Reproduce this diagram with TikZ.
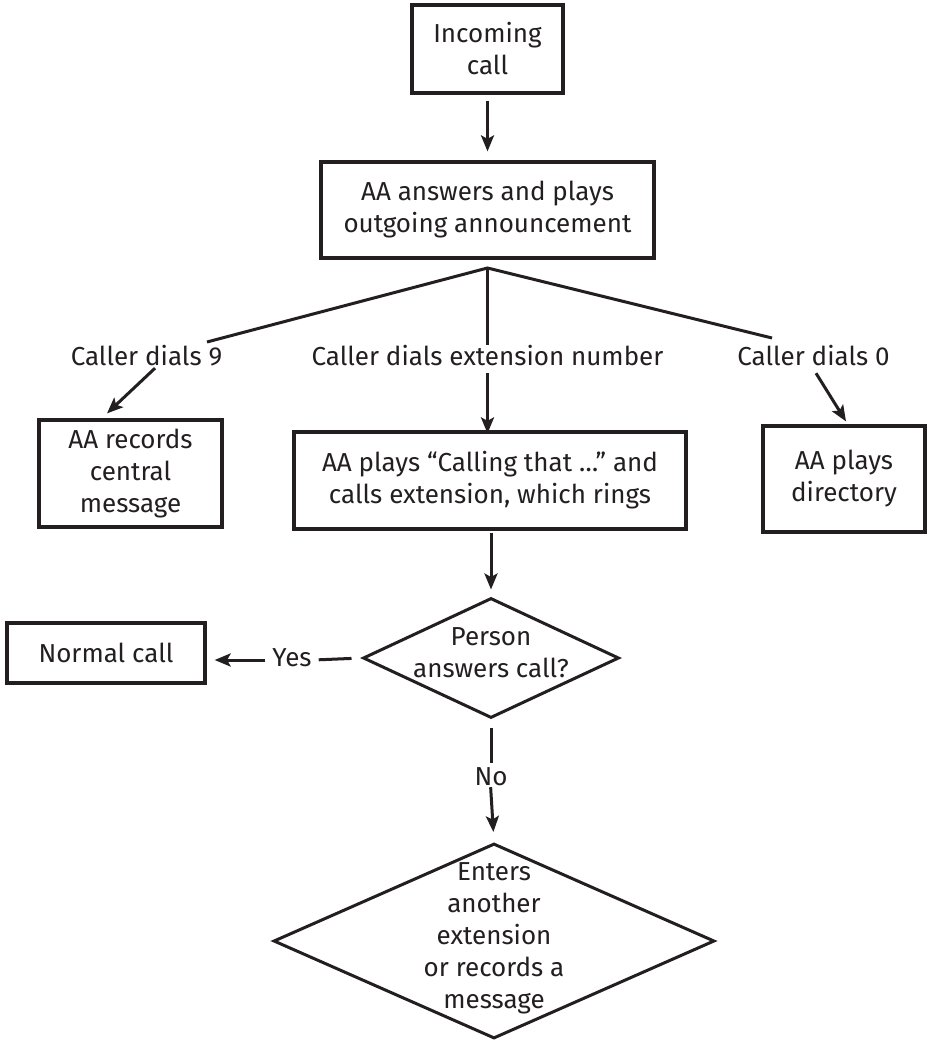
\documentclass[tikz,border=0pt]{standalone}
\usepackage{fontspec}
\setmainfont{Fira Sans}
\usetikzlibrary{arrows.meta,shapes.geometric,calc}
\definecolor{ink}{RGB}{35,31,32}
\begin{document}
\begin{tikzpicture}[x=1pt,y=-1pt,
  every node/.style={font=\fontsize{26}{32}\selectfont, text=ink},
  box/.style={draw=ink, line width=3.2pt, align=center, inner sep=0pt},
  dia/.style={draw=ink, line width=3pt, diamond, inner sep=0pt},
  txt/.style={align=center, inner sep=0pt},
  lab/.style={inner sep=2pt, text height=18pt, text depth=6pt, anchor=base},
  conn/.style={draw=ink, line width=3pt},
  arr/.style={conn, -{Stealth[length=16pt,width=13pt,inset=3.5pt]}}]
\useasboundingbox (0,0) rectangle (930,1040);
\fill[white] (0,0) rectangle (930,1040);
% boxes
\node[box, minimum width=151pt, minimum height=88pt] (inc) at (487.5,49) {Incoming\\call};
\node[box, minimum width=333pt, minimum height=96pt] (ans) at (487.5,210) {AA answers and plays\\outgoing announcement};
\node[box, minimum width=183pt, minimum height=107pt] (rec) at (130.5,473.5) {AA records\\central\\message};
\node[box, minimum width=392pt, minimum height=97pt] (call) at (490,480.5) {AA plays “Calling that …” and\\calls extension, which rings};
\node[box, minimum width=162pt, minimum height=106pt] (dir) at (844,479) {AA plays\\directory};
\node[box, minimum width=198pt, minimum height=60pt] (norm) at (106,653) {Normal call};
% diamonds
\node[dia, minimum width=256pt, minimum height=120pt,
  label={[txt, yshift=5pt]center:{Person\\answers call?}}] (d1) at (491,658) {};
\node[dia, minimum width=441pt, minimum height=195pt,
  label={[txt, yshift=3pt]center:{Enters\\another\\extension\\or records a\\message}}] (d2) at (494,941) {};
% labels
\node[lab] (l9) at (146.5,365) {Caller dials 9};
\node[lab] (lext) at (487.5,365) {Caller dials extension number};
\node[lab] (l0) at (813.5,365) {Caller dials 0};
\node[lab] (yes) at (292,666) {Yes};
\node[lab] (no) at (491,785) {No};
% branch
\coordinate (br) at (487.5,268);
\coordinate (c9) at (207,342);
\coordinate (c0) at (772,338);
% connectors
\draw[arr, shorten <=6pt, shorten >=9pt] (inc.south) -- (ans.north);
\draw[conn] (c9) -- (br) -- (c0);
\draw[conn] (br) -- (lext.north);
\draw[arr, shorten >=-3pt] (lext.south) -- (lext.south |- call.north);
\draw[arr] ([xshift=8.5pt,yshift=5pt]l9.south) -- ([xshift=-23.5pt,yshift=5pt]rec.north);
\draw[arr] ([xshift=2.5pt]l0.south) -- ([xshift=2pt,yshift=3pt]dir.north);
\draw[arr, shorten <=2pt, shorten >=7pt] (call.south -| d1.north) -- (d1.north);
\draw[conn, shorten <=10pt, shorten >=5pt] (d1.west) -- (yes.east);
\draw[arr, shorten <=5pt, shorten >=8pt] (yes.west) -- (yes.west -| norm.east);
\draw[conn, shorten <=8pt, shorten >=2pt] (d1.south) -- (no.north);
\draw[arr, shorten <=-6pt, shorten >=10pt] (no.south) -- (d2.north);
\end{tikzpicture}
\end{document}
